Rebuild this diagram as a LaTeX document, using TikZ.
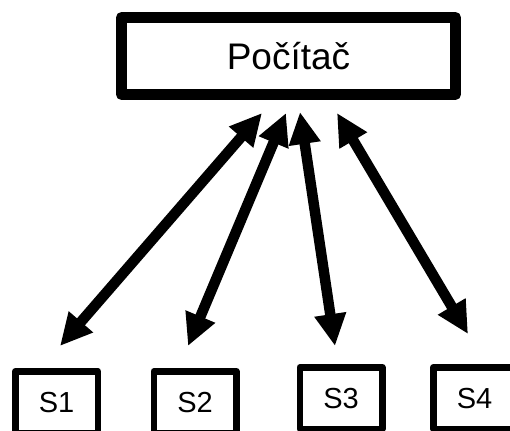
\documentclass[tikz,border=0pt]{standalone}
\usepackage{fontspec}
\setmainfont{Liberation Sans}
\usetikzlibrary{arrows.meta}

\begin{document}
\begin{tikzpicture}[x=1pt, y=-1pt, >={Triangle[length=32pt, width=30pt]}, line join=round]
    \tikzset{
        pcbox/.style={draw, line width=11pt, outer sep=0pt, inner sep=0pt,
            minimum width=334pt, minimum height=77pt,
            font=\fontsize{37}{40}\selectfont, text height=26.5pt, text depth=0pt},
        sbox/.style={draw, line width=6.5pt, outer sep=0pt, inner sep=0pt,
            minimum width=82.5pt, minimum height=61.5pt,
            font=\fontsize{29}{32}\selectfont, text height=20.8pt, text depth=0pt},
        link/.style={<->, line width=10.5pt}
    }
    \clip (0,0) rectangle (510,430);

    \node[pcbox] (pc) at (288.5,56) {Počítač};
    \node[sbox] (s1) at (56.5,402) {S1};
    \node[sbox] (s2) at (195,402) {S2};
    \node[sbox] (s3) at (341,398) {S3};
    \node[sbox] (s4) at (474.5,398) {S4};

    \draw[link] ([xshift=-26.5pt, yshift=-18.5pt]pc.south) -- ([xshift=3.5pt, yshift=25.25pt]s1.north);
    \draw[link] ([xshift=-2.5pt, yshift=-18.5pt]pc.south) -- ([xshift=-7pt, yshift=25.25pt]s2.north);
    \draw[link] ([xshift=11.5pt, yshift=-17.5pt]pc.south) -- ([xshift=-6pt, yshift=21.25pt]s3.north);
    \draw[link] ([xshift=48.5pt, yshift=-18.5pt]pc.south) -- ([xshift=-6.5pt, yshift=33.25pt]s4.north);
\end{tikzpicture}
\end{document}
